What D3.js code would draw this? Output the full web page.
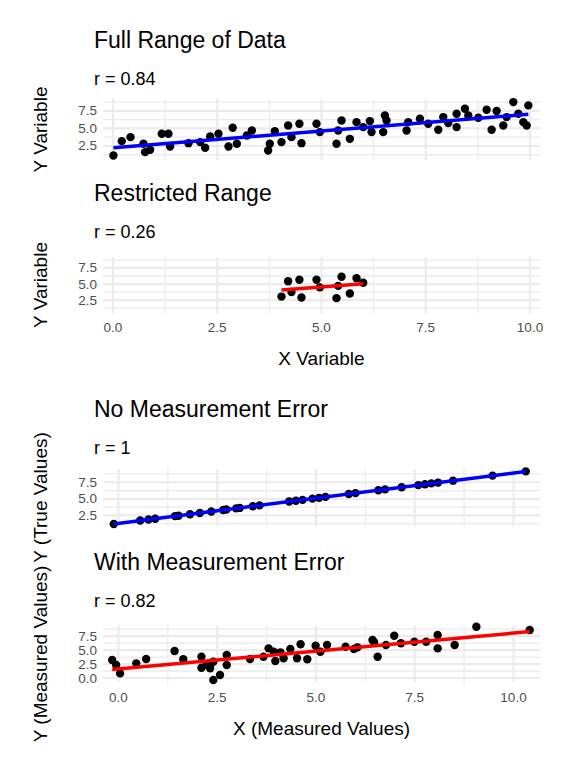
<!DOCTYPE html>
<html><head><meta charset="utf-8">
<script src="https://cdn.jsdelivr.net/npm/d3@7"></script>
<style>body{margin:0;background:#fff}text{font-family:"Liberation Sans",Arial,sans-serif}</style>
</head><body>
<svg id="c" width="576" height="768"></svg>
<script>
const fullX=[0.01,0.21,0.42,0.73,0.77,0.89,1.17,1.33,1.37,1.81,2.09,2.21,2.33,2.53,2.77,2.87,2.97,3.21,3.33,3.72,3.76,3.88,4.04,4.20,4.28,4.47,4.52,4.88,4.96,5.36,5.40,5.48,5.68,5.84,6.00,6.16,6.20,6.48,6.52,6.56,7.04,7.08,7.36,7.56,7.80,7.92,8.04,8.24,8.24,8.44,8.52,8.76,8.96,9.08,9.20,9.36,9.44,9.60,9.72,9.84,9.92,9.96];
const fullY=[1.14,3.19,3.76,2.81,1.62,1.95,4.24,4.24,2.43,2.90,3.05,2.24,3.86,4.24,2.43,5.10,2.81,4.0,4.71,1.86,2.81,4.62,3.05,5.43,3.76,5.67,2.90,5.67,4.48,2.81,4.71,6.14,3.52,5.90,5.19,6.05,4.48,4.48,6.86,6.14,4.71,5.90,6.38,5.67,4.81,6.62,5.76,5.19,7.10,7.81,6.86,6.52,7.67,4.81,7.48,5.43,6.62,8.76,7.10,5.90,5.43,8.29];
const trueX=[-0.12,0.55,0.76,0.93,1.43,1.52,1.81,2.06,2.35,2.65,2.73,2.98,3.07,3.40,3.57,4.32,4.49,4.66,4.91,5.08,5.24,5.83,6.00,6.58,6.75,7.17,7.59,7.76,7.92,8.09,8.47,9.47,10.31];
const trueY=[1.21,1.72,1.88,2.00,2.39,2.45,2.68,2.86,3.09,3.32,3.38,3.56,3.63,3.88,4.01,4.59,4.71,4.84,5.03,5.15,5.29,5.73,5.86,6.30,6.43,6.75,7.07,7.20,7.33,7.45,7.74,8.50,9.14];
const measX=[-0.16,-0.06,0.04,0.45,0.70,1.42,1.64,2.10,2.10,2.23,2.32,2.40,2.40,2.57,2.74,2.74,3.33,3.67,3.80,3.93,3.97,4.10,4.18,4.35,4.52,4.61,4.78,4.99,5.11,5.28,5.75,5.96,6.05,6.43,6.47,6.56,6.77,6.98,7.15,7.49,7.79,8.08,8.08,8.51,9.06,10.41];
const measY=[3.21,2.32,0.83,2.62,3.39,4.82,3.34,3.80,1.84,2.32,1.73,2.91,-0.36,0.54,4.11,2.32,3.39,3.80,5.30,4.70,3.04,4.59,3.52,5.18,3.52,6.02,3.34,5.77,4.70,5.89,5.59,5.18,5.48,6.79,6.38,3.80,5.89,7.55,6.20,6.48,6.48,7.68,5.30,5.89,9.16,8.57];
const xTicks=[0,2.5,5,7.5,10];
const yTicks=[2.5,5,7.5];
const yTicks4=[0,2.5,5,7.5];

const svg=d3.select("#c");
function fit(xs,ys){const mx=d3.mean(xs),my=d3.mean(ys);let sxy=0,sxx=0;xs.forEach((x,i)=>{sxy+=(x-mx)*(ys[i]-my);sxx+=(x-mx)**2});const b=sxy/sxx;return{b,a:my-b*mx};}
function panel(o){
  const g=svg.append("g");
  const x=d3.scaleLinear().domain(o.xd).range(o.xr);
  const y=d3.scaleLinear().domain(o.yd).range(o.yr);
  const L=103,R=540,T=o.yr[1],B=o.yr[0];
  const xm=[];for(let v=-1.25;v<=11.25;v+=2.5)xm.push(v);
  const ym=[];for(let v=-1.25;v<=10;v+=2.5)ym.push(v);
  xm.filter(v=>x(v)>=L&&x(v)<=R).forEach(v=>g.append("line").attr("x1",x(v)).attr("x2",x(v)).attr("y1",T).attr("y2",B).attr("stroke","#ebebeb").attr("stroke-width",1.3));
  ym.filter(v=>y(v)>=T&&y(v)<=B).forEach(v=>g.append("line").attr("x1",L).attr("x2",R).attr("y1",y(v)).attr("y2",y(v)).attr("stroke","#ebebeb").attr("stroke-width",1.3));
  xTicks.forEach(v=>g.append("line").attr("x1",x(v)).attr("x2",x(v)).attr("y1",T).attr("y2",B).attr("stroke","#ebebeb").attr("stroke-width",2.2));
  o.yt.forEach(v=>g.append("line").attr("x1",L).attr("x2",R).attr("y1",y(v)).attr("y2",y(v)).attr("stroke","#ebebeb").attr("stroke-width",2.2));
  o.yt.forEach(v=>g.append("text").attr("x",97).attr("y",y(v)+4.5).attr("text-anchor","end").attr("font-size",13.5).attr("fill","#4d4d4d").text(d3.format(".1f")(v)));
  g.append("text").attr("x",94).attr("y",o.ty).attr("font-size",23).text(o.title);
  g.append("text").attr("x",94).attr("y",o.ty+37).attr("font-size",18).text(o.r);
  g.append("text").attr("transform",`translate(47,${(T+B)/2}) rotate(-90)`).attr("text-anchor","middle").attr("font-size",19).text(o.ylab);
  if(o.xlab){
    xTicks.forEach(v=>g.append("text").attr("x",x(v)).attr("y",B+19).attr("text-anchor","middle").attr("font-size",13.5).attr("fill","#4d4d4d").text(d3.format(".1f")(v)));
    g.append("text").attr("x",(L+R)/2).attr("y",B+52).attr("text-anchor","middle").attr("font-size",19).text(o.xlab);
  }
  o.xs.forEach((v,i)=>g.append("circle").attr("cx",x(v)).attr("cy",y(o.ys[i])).attr("r",4.2).attr("fill","#000"));
  const f=fit(o.xs,o.ys),x0=d3.min(o.xs),x1=d3.max(o.xs);
  g.append("line").attr("x1",x(x0)).attr("x2",x(x1)).attr("y1",y(f.a+f.b*x0)).attr("y2",y(f.a+f.b*x1)).attr("stroke",o.col).attr("stroke-width",3.5);
}
const rx=[],ry=[];fullX.forEach((v,i)=>{if(v>=4&&v<=6){rx.push(v);ry.push(fullY[i]);}});
panel({xs:fullX,ys:fullY,xd:[0,10],xr:[113,530],yd:[0.5,9.2],yr:[160,99],yt:yTicks,title:"Full Range of Data",r:"r = 0.84",ty:48,ylab:"Y Variable",col:"#0000ff"});
panel({xs:rx,ys:ry,xd:[0,10],xr:[113,530],yd:[0.5,9.2],yr:[313,257],yt:yTicks,title:"Restricted Range",r:"r = 0.26",ty:201,ylab:"Y Variable",xlab:"X Variable",col:"#ff0000"});
panel({xs:trueX,ys:trueY,xd:[0,10],xr:[118.5,513.5],yd:[0.9,9.5],yr:[526,469],yt:yTicks,title:"No Measurement Error",r:"r = 1",ty:417,ylab:"Y (True Values)",col:"#0000ff"});
panel({xs:measX,ys:measY,xd:[0,10],xr:[118.5,513.5],yd:[-0.8,9.4],yr:[682.5,625.4],yt:yTicks4,title:"With Measurement Error",r:"r = 0.82",ty:570,ylab:"Y (Measured Values)",xlab:"X (Measured Values)",col:"#ff0000"});
</script></body></html>
